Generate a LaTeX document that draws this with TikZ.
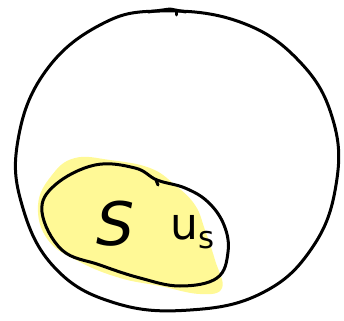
\documentclass[tikz,border=0pt]{standalone}
\usepackage{fontspec}
\setmainfont{DejaVu Sans}
\usetikzlibrary{positioning}
\definecolor{hiliteclr}{RGB}{255,249,150}
\tikzset{pen/.style={line width=3pt, line cap=round, line join=round}}

\begin{document}
\begin{tikzpicture}[x=1pt,y=-1pt]
\useasboundingbox (0,0) rectangle (344,320);

% Outer circle (hand drawn, a bit wider than tall)
\draw[pen] plot[smooth cycle, tension=0.7] coordinates {
  (160,11) (240,22) (300,62) (333,120) (336,185) (312,248)
  (262,293) (190,310) (115,303) (55,268) (22,205) (18,140)
  (45,72) (100,25)};
\draw[pen] (148,12) -- (170,9) -- (186,12);
\draw[pen] (176,11) -- (176,15);

% Yellow highlight behind the set
\fill[hiliteclr] plot[smooth cycle, tension=0.7] coordinates {
  (38,205) (52,175) (75,158) (110,160) (150,168) (175,185)
  (195,205) (205,230) (215,260) (222,288) (200,294) (160,286)
  (120,278) (80,262) (48,240)};

% Set outline
\draw[pen] plot[smooth cycle, tension=0.65] coordinates {
  (42,212) (55,185) (95,165) (135,168) (157,180) (185,188)
  (208,202) (224,225) (228,252) (217,278) (180,286) (140,278)
  (100,265) (62,250)};
\draw[pen] (156,180) -- (158,185);

% Labels
\node[font=\fontsize{60}{60}\selectfont\itshape] (setS) at (116,224) {S};
\node[font=\fontsize{44}{44}\selectfont, right=28pt of setS, yshift=-8pt] (uS) {u\textsubscript{s}};

\end{tikzpicture}
\end{document}
